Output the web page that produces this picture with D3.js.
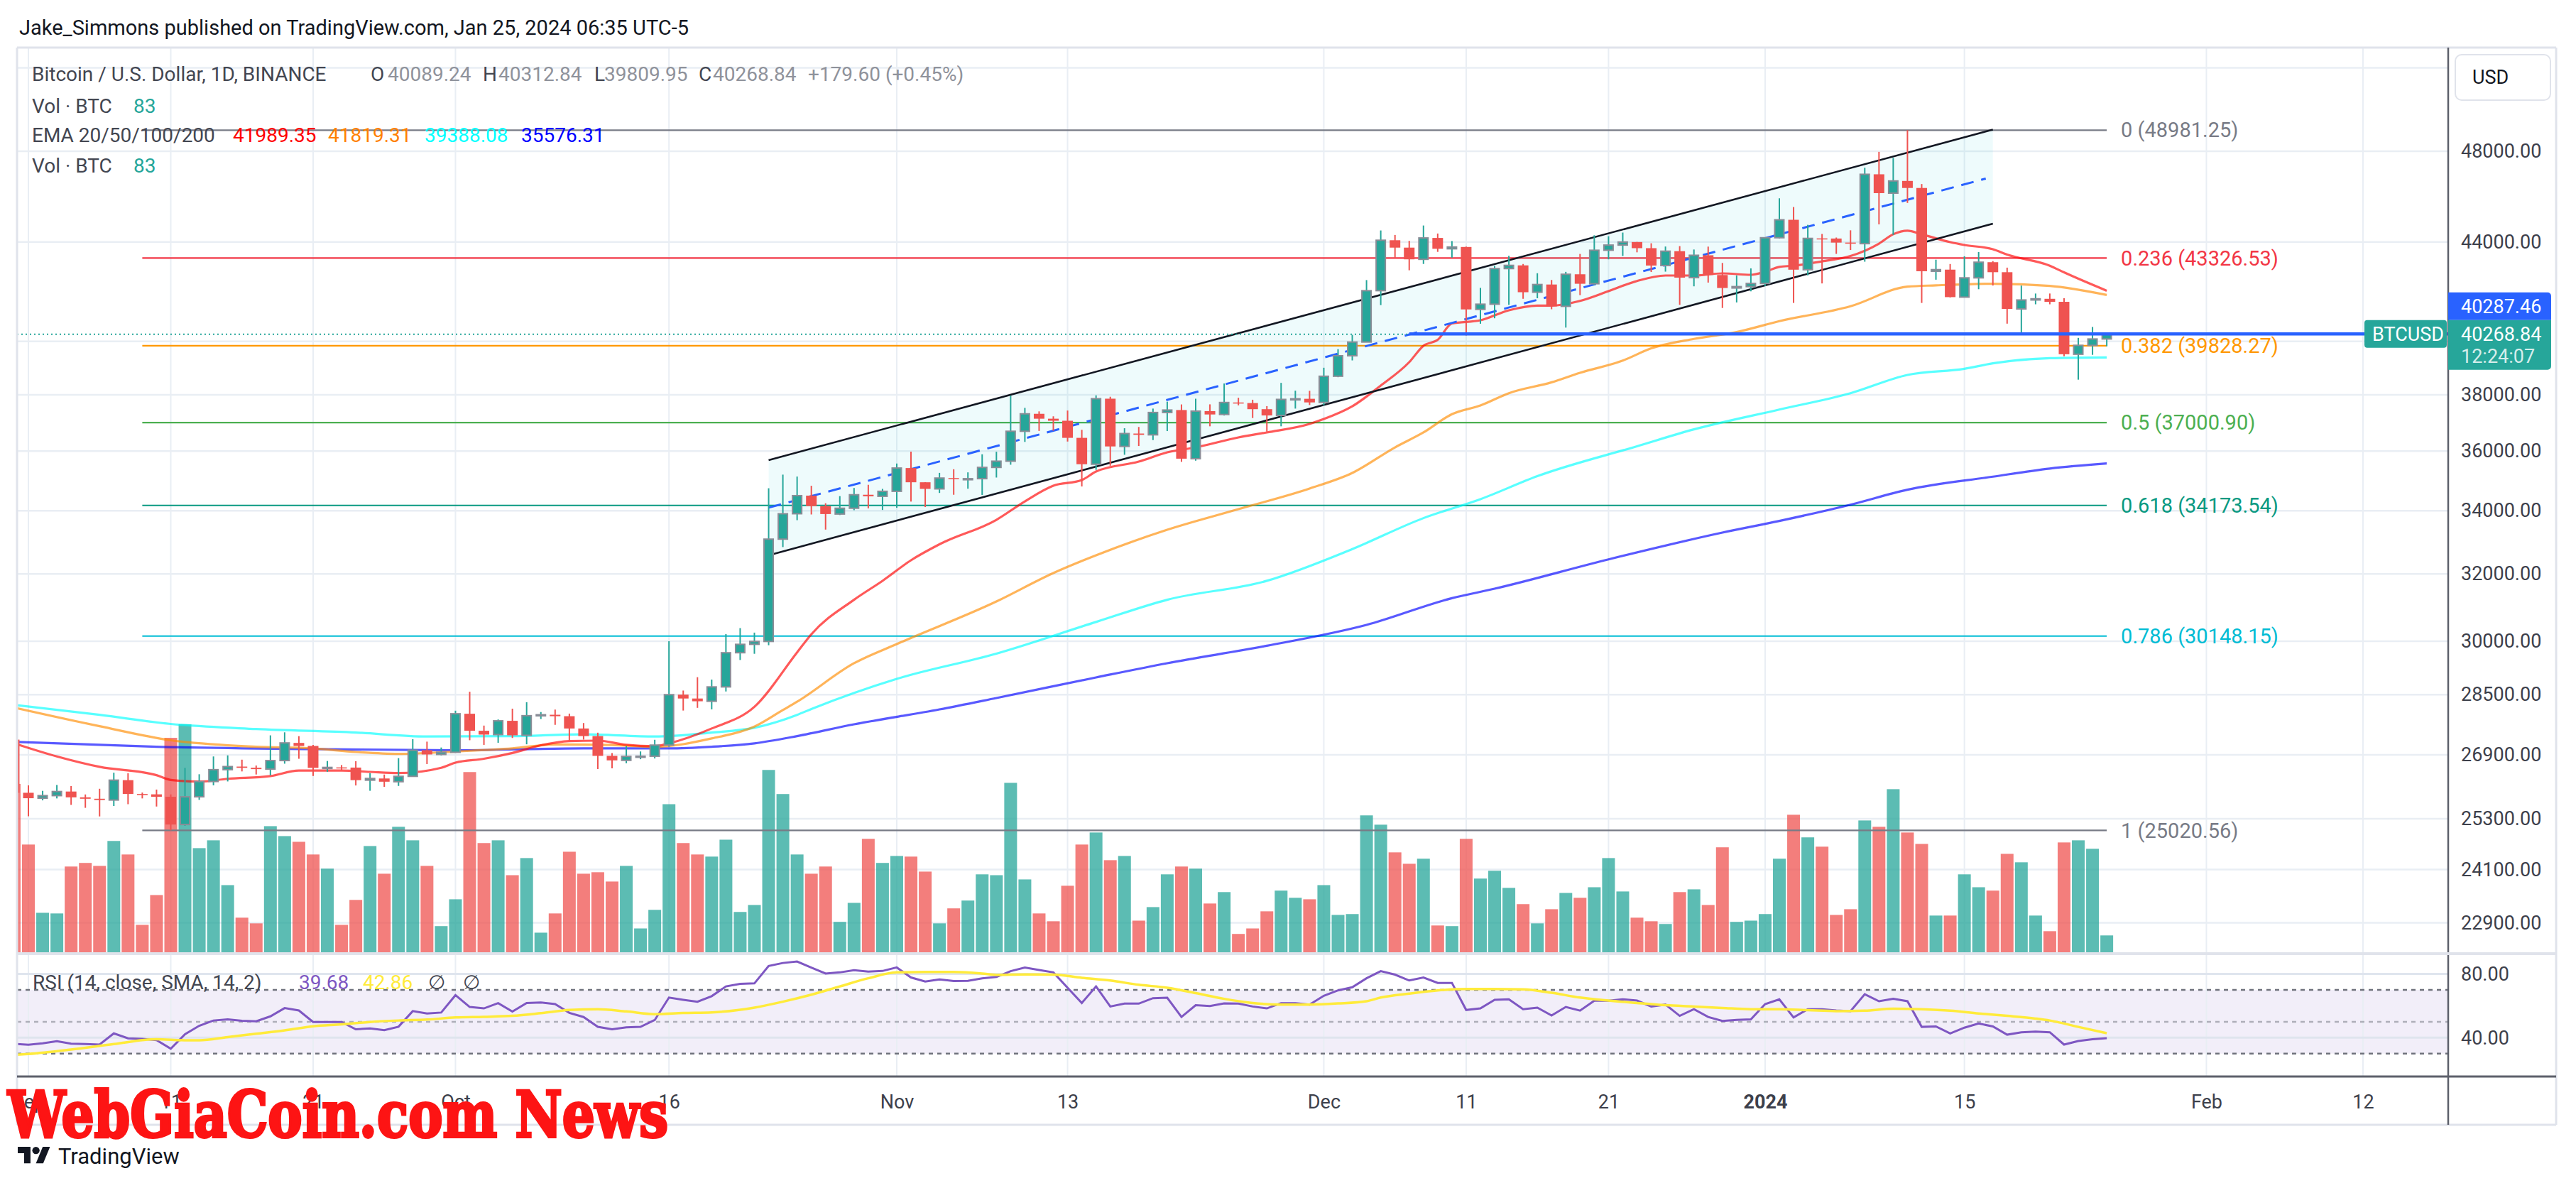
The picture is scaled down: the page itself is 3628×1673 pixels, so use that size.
<!DOCTYPE html>
<html><head><meta charset="utf-8">
<script src="https://cdn.jsdelivr.net/npm/d3@7/dist/d3.min.js"></script>
<style>
html,body{margin:0;padding:0;background:#fff;}
</style></head>
<body>
<svg id="chart" width="3628" height="1673" xmlns="http://www.w3.org/2000/svg"></svg>
<script>
// ---------------- DATA (daily candles from 2023-08-31 to 2024-01-25) ----------------
const firstDay = "2023-08-31";
const open = [27297,
 25940,25805,25869,25971,25826,25792,25760,26256,25910,25901,
 25841,25162,25840,26222,26522,26600,26569,26535,26754,27211,
 27132,26567,26579,26575,26256,26298,26217,26352,27021,26911,
 26967,27983,27530,27429,27794,27410,27931,27956,27917,27590,
 27390,26875,26759,26862,26866,27154,28500,28395,28320,28713,
 29670,29910,29993,33086,33902,34496,34151,33892,34081,34525,34474,
 34639,35421,34941,34720,35082,35049,35062,35443,35655,36693,
 37313,37138,37065,36462,35551,37858,36163,36613,36568,37360,
 37448,35741,37409,37289,37720,37700,37479,37254,37832,37854,
 37723,38682,39450,39972,41991,44073,43762,43273,44170,43713,
 43789,41243,41450,42890,43023,41929,42240,41365,42657,42271,
 43652,43869,43997,43739,43016,43613,42520,43442,42627,42099,42156,
 42283,44179,44946,42845,44151,44145,43974,43929,46951,46110,
 46653,46339,42782,42847,41732,42511,43154,42742,41262,41618,
 41665,41545,39507,39845,40089.24];
const high = [27575,
 26125,25988,26135,26108,25898,26040,26444,26430,25945,26020,
 25900,26567,26405,26860,26888,26777,26627,27409,27489,27388,
 27159,26743,26640,26738,26432,26398,26817,27308,27244,27091,
 28065,28580,27667,27830,28120,28295,28029,28095,27987,27735,
 27479,26947,27130,26989,27293,30000,28613,28982,28916,30207,
 30379,30248,34741,35198,35133,34824,34245,34480,34750,34856,34720,
 35575,35984,34946,35258,35380,35275,35892,35980,37972,37526,
 37400,37223,37430,36744,37980,37929,36800,36845,37500,37750,
 37650,37856,37653,38414,37892,37820,37589,38437,38150,38145,
 38999,39700,40250,42420,44488,44297,44047,44700,44358,44038,
 43804,42104,43000,43420,43080,42700,42424,42756,43497,44283,
 44242,44398,44000,43946,43808,43825,43683,43804,43124,42612,42899,
 44184,45879,45500,44729,44340,44187,44495,47248,47972,47695,
 48981.25,46515,43257,43079,43400,43578,43198,42930,42196,41876,
 41877,41689,40132,40555,40312.84];
const low = [25655,
 25362,25752,25800,25640,25568,25358,25614,25657,25800,25600,
 25020.56,25131,25764,26126,26224,26477,26399,26377,26674,26800,
 26361,26468,26500,26122,25990,26088,26111,26342,26665,26888,
 26954,27281,27160,27215,27340,27175,27842,27687,27260,27298,
 26538,26555,26685,26789,26808,27112,28069,28142,28100,28587,
 29464,29640,29884,32835,33693,33878,33390,33860,34017,34077,34025,
 34097,34300,34120,34585,34525,34725,34520,35100,35534,36320,
 36705,36712,36333,34800,35360,35500,35875,36178,36384,36700,
 35632,35670,36868,37251,37617,37162,36681,36868,37500,37629,
 37616,38647,39274,39972,41414,43335,42821,43081,43584,43343,
 40222,40680,40894,41424,41666,41688,41250,40530,41811,42213,
 43273,43412,43565,42750,42765,41424,42167,42318,41300,41520,41965,
 42180,44148,41500,42613,42284,43500,43662,43175,44748,44300,
 45678,41500,42436,41720,41718,42050,42200,40683,40280,41446,
 41446,39431,38555,39484,39809.95];
const close = [25940,
 25805,25869,25971,25826,25792,25760,26256,25910,25901,25841,
 25162,25840,26222,26522,26600,26569,26535,26754,27211,27132,
 26567,26579,26575,26256,26298,26217,26352,27021,26911,26967,
 27983,27530,27429,27794,27410,27931,27956,27917,27590,27390,
 26875,26759,26862,26866,27154,28500,28395,28320,28713,29670,
 29910,29993,33086,33902,34496,34151,33892,34081,34525,34474,34639,
 35421,34941,34720,35082,35049,35062,35443,35655,36693,37313,
 37138,37065,36462,35551,37858,36163,36613,36568,37360,37448,
 35741,37409,37289,37720,37700,37479,37254,37832,37854,37723,
 38682,39450,39972,41991,44073,43762,43273,44170,43713,43789,
 41243,41450,42890,43023,41929,42240,41365,42657,42271,43652,
 43869,43997,43739,43016,43613,42520,43442,42627,42099,42156,42283,
 44179,44946,42845,44151,44145,43974,43929,46951,46110,46653,
 46339,42782,42847,41732,42511,43154,42742,41262,41618,41665,
 41545,39507,39845,40089.24,40268.84];
const volume = [800,
 513,190,187,409,426,412,530,466,133,274,
 1018,1082,496,533,321,167,140,600,553,526,
 466,399,133,251,506,375,597,533,412,127,
 254,856,520,533,368,449,96,187,479,375,
 382,338,412,116,204,704,520,466,456,536,
 194,227,866,752,466,375,409,147,237,540,426,
 459,456,385,140,211,248,372,368,805,348,
 187,150,318,513,570,439,459,153,217,372,
 409,399,234,288,90,116,197,295,261,254,
 321,180,184,651,607,476,422,446,130,127,
 540,352,389,308,231,140,207,284,261,311,
 449,291,167,150,137,288,301,227,500,147,153,
 184,446,654,547,503,180,207,627,597,775,
 570,516,177,177,372,311,295,469,429,177,
 103,523,533,493,83];
const rsi = [36.2,
 35.6,36.5,37.8,36.3,36.0,35.7,42.7,39.6,39.3,38.5,
 33.1,42.2,47.5,50.8,51.5,50.6,50.3,53.4,58.6,57.1,
 49.9,49.9,49.9,45.3,45.8,44.7,46.9,56.7,55.2,55.8,
 66.7,59.3,58.4,61.7,56.4,61.8,62.1,61.1,55.6,53.0,
 46.8,45.3,46.5,46.8,51.1,65.2,63.8,62.6,66.1,72.2,
 73.8,74.1,85.0,86.9,87.8,84.0,80.3,81.0,82.4,81.5,
 81.9,84.1,77.8,75.3,76.6,75.6,75.7,77.3,78.1,81.8,
 84.0,82.5,81.0,71.4,61.8,72.2,59.6,61.4,61.4,64.8,
 65.1,53.0,60.4,59.9,61.5,61.4,59.6,58.4,61.7,61.7,
 60.8,66.3,69.7,71.7,77.3,81.8,79.6,75.9,77.8,74.4,
 74.4,57.4,58.4,63.8,64.1,57.9,58.9,54.0,59.3,57.0,
 63.2,63.2,64.1,63.3,59.6,60.8,53.7,57.9,53.0,50.5,
 51.2,51.5,61.1,64.1,52.7,57.9,57.9,57.1,56.7,67.3,
 62.9,64.4,62.9,46.8,47.1,42.7,46.3,48.9,47.1,41.9,
 43.4,43.8,43.4,35.7,37.9,39.0,39.68];

// indicator readings: [days after 2023-09-01, value]
const ema20 = [[-1,27200],[2,26860],[5,26593],[9,26382],[10,26260],[12,26220],[14,26290],[17,26360],[19,26500],[22,26500],[24,26465],[26,26435],[29,26570],[30,26700],[32,26800],[34,26950],[36,27150],[38,27260],[40,27270],[42,27160],[44,27125],[45,27200],[48,27590],[51,28170],[54,29680],[55,30200],[58,31217],[60,31788],[62,32422],[64,32922],[68,33705],[70,34307],[72,34826],[74,35016],[75,35303],[78,35641],[80,35958],[82,36130],[85,36477],[87,36652],[90,36952],[91,37126],[93,37583],[95,38336],[97,39208],[98,39830],[99,40056],[100,40690],[102,40816],[104,41208],[106,41394],[107,41394],[109,41582],[111,41972],[113,42383],[115,42606],[117,42606],[119,42693],[121,42635],[122,42760],[123,42961],[124,43010],[126,43187],[128,43411],[130,43932],[131,44326],[132,44478],[133,44326],[135,43992],[136,43873],[138,43693],[139,43468],[142,43010],[143,42735],[146,41989.35]];
const ema50 = [[-1,28150],[5,27651],[10,27280],[16,27111],[20,27068],[23,26975],[26,26926],[30,26988],[34,27068],[37,27170],[41,27155],[44,27111],[48,27328],[51,27640],[53,28082],[54,28307],[58,29373],[61,29918],[68,31166],[72,32027],[75,32577],[80,33385],[85,34051],[90,34731],[93,35255],[96,36130],[98,36652],[100,37300],[102,37612],[104,38058],[107,38457],[109,38810],[112,39267],[114,39730],[117,40094],[120,40357],[123,40780],[128,41368],[132,42153],[134,42206],[138,42272],[142,42184],[146,41819.31]];
const ema100 = [[-1,28220],[5,27954],[10,27710],[16,27576],[23,27483],[28,27380],[34,27389],[39,27434],[44,27378],[48,27483],[51,27608],[54,27954],[55,28110],[61,28935],[68,29644],[75,30559],[80,31217],[87,31790],[93,32772],[98,33760],[102,34378],[106,35147],[113,36169],[117,36760],[123,37466],[128,38058],[132,38730],[136,38960],[138,39163],[142,39358],[146,39388.08]];
const ema200 = [[-1,27240],[9,27111],[20,27050],[30,27020],[39,27068],[45,27068],[48,27111],[51,27200],[54,27389],[58,27700],[64,28100],[68,28409],[75,28975],[80,29373],[87,29869],[94,30473],[100,31264],[103,31550],[111,32450],[119,33294],[123,33668],[128,34198],[132,34693],[138,35130],[142,35404],[146,35576.31]];
const rsiSma = [[-1,29.2],[0,29.8],[3,32.6],[6,36.0],[9,39.0],[11,38.4],[12,38.4],[14,40.4],[16,42.5],[18,44.6],[20,47.2],[22,48.4],[24,49.9],[26,50.8],[28,51.4],[30,52.7],[32,53.1],[34,53.7],[36,55.4],[38,57.4],[40,57.9],[42,56.5],[44,54.8],[46,55.5],[48,55.9],[51,58.9],[53,62.6],[55,67.0],[57,72.2],[59,77.3],[61,81.0],[63,81.3],[65,81.3],[67,80.3],[68,79.4],[70,79.7],[72,79.6],[74,77.6],[76,75.9],[78,73.2],[80,71.4],[82,68.0],[84,64.4],[86,61.8],[88,60.8],[90,60.8],[92,61.5],[94,62.9],[95,65.2],[97,67.7],[99,69.7],[101,70.6],[103,70.6],[105,70.3],[107,68.2],[109,65.2],[111,63.3],[113,61.8],[115,60.4],[117,59.6],[119,58.7],[121,57.9],[123,57.9],[125,57.3],[127,56.7],[129,57.0],[131,58.2],[133,57.9],[135,57.0],[137,55.2],[139,53.7],[141,52.0],[142,50.8],[144,46.8],[146,42.86]];

const fibLevels = ["0","0.236","0.382","0.5","0.618","0.786","1"];
const fibPrices = [48981.25,43326.53,39828.27,37000.90,34173.54,30148.15,25020.56];
const fibStart = "2023-09-09", fibEnd = "2024-01-25";
const channelUpper = [["2023-10-23",35693],["2024-01-17",49008]];
const channelLower = [["2023-10-23",32578],["2024-01-17",44778]];
const alertPrice = 40287.46, alertStart = "2023-12-07";
const countdown = "12:24:07";
const priceTicks = [52000,48000,44000,40000,38000,36000,34000,32000,30000,28500,26900,25300,24100,22900];
const hiddenPriceLabels = [52000,40000];
const rsiTicks = [80,40];
const rsiBands = [70,50,30];
const timeTicks = [["2023-09-01","Sep"],["2023-09-11","11"],["2023-09-21","21"],["2023-10-01","Oct"],["2023-10-16","16"],["2023-11-01","Nov"],["2023-11-13","13"],["2023-12-01","Dec"],["2023-12-11","11"],["2023-12-21","21"],["2024-01-01","2024"],["2024-01-15","15"],["2024-02-01","Feb"],["2024-02-12","12"]];

// ---------------- STYLE / LAYOUT ----------------
const FONT = "Roboto, 'Noto Sans', 'DejaVu Sans', sans-serif";
const L = 24, R = 3448, PT = 67, PB = 1342, RT = 1344, RB = 1516, AB = 1584, FR = 3600;
const UP = "#26a69a", DN = "#ef5350", GRID = "#e9eef4", TXT = "#3d404b";
const fibColors = ["#787b86","#f23645","#ff9800","#4caf50","#089981","#00bcd4","#787b86"];

const svg = d3.select("#chart").attr("font-family", FONT);
const parse = d3.utcParse("%Y-%m-%d");
const base = parse(firstDay);
const dates = close.map((_, i) => d3.utcDay.offset(base, i));
const sep1 = parse("2023-09-01");
const dayAt = d => d3.utcDay.offset(sep1, d);
const f2 = d3.format(".2f");

const x = d3.scaleUtc().domain([parse("2023-09-01"), parse("2024-02-12")]).range([40, 3328]);
const y = d3.scaleLog().domain([53020, 22245]).range([PT, PB]);
const yR = d3.scaleLinear().domain([15.65, 92.3]).range([RB, RT]);
const yV = d3.scaleLinear().domain([0, d3.max(volume)]).range([PB, PB - 322]);

svg.append("rect").attr("width", 3628).attr("height", 1673).attr("fill", "#fff");
const defs = svg.append("defs");
defs.append("clipPath").attr("id", "clipP").append("rect").attr("x", L).attr("y", PT).attr("width", R - L).attr("height", PB - PT);
defs.append("clipPath").attr("id", "clipR").append("rect").attr("x", L).attr("y", RT).attr("width", R - L).attr("height", RB - RT);

const gP = svg.append("g").attr("clip-path", "url(#clipP)");
const gR = svg.append("g").attr("clip-path", "url(#clipR)");
const tickDates = timeTicks.map(t => parse(t[0]));

// grids
gP.selectAll(".vg").data(tickDates).join("line").attr("x1", d => x(d)).attr("x2", d => x(d)).attr("y1", PT).attr("y2", PB).attr("stroke", GRID).attr("stroke-width", 2);
gP.selectAll(".hg").data(priceTicks).join("line").attr("x1", L).attr("x2", R).attr("y1", d => y(d)).attr("y2", d => y(d)).attr("stroke", GRID).attr("stroke-width", 2.5);
gR.append("rect").attr("x", L).attr("width", R - L).attr("y", yR(70)).attr("height", yR(30) - yR(70)).attr("fill", "rgba(126,87,194,0.1)");
gR.selectAll(".vg").data(tickDates).join("line").attr("x1", d => x(d)).attr("x2", d => x(d)).attr("y1", RT).attr("y2", RB).attr("stroke", GRID).attr("stroke-width", 2);
gR.selectAll(".hg").data(rsiTicks).join("line").attr("x1", L).attr("x2", R).attr("y1", d => yR(d)).attr("y2", d => yR(d)).attr("stroke", "#dfe5ee").attr("stroke-width", 3);
gR.selectAll(".band").data(rsiBands).join("line").attr("x1", L).attr("x2", R).attr("y1", d => yR(d)).attr("y2", d => yR(d))
  .attr("stroke", d => d === 50 ? "rgba(120,123,134,0.55)" : "#6f727c").attr("stroke-width", 2.5).attr("stroke-dasharray", "6,6");

// volume
gP.selectAll(".vol").data(volume).join("rect")
  .attr("x", (d, i) => x(dates[i]) - 9).attr("width", 18)
  .attr("y", d => yV(d)).attr("height", d => PB - yV(d))
  .attr("fill", (d, i) => close[i] >= open[i] ? "rgba(38,166,154,0.75)" : "rgba(239,83,80,0.75)");

// fib lines
const fx1 = x(parse(fibStart)), fx2 = x(parse(fibEnd));
gP.selectAll(".fib").data(fibPrices).join("line").attr("x1", fx1).attr("x2", fx2).attr("y1", d => y(d)).attr("y2", d => y(d))
  .attr("stroke", (d, i) => fibColors[i]).attr("stroke-width", 2.2);
gP.selectAll(".fibl").data(fibPrices).join("text").attr("x", fx2 + 20).attr("y", d => y(d)).attr("dy", "0.35em")
  .attr("font-size", 29).attr("fill", (d, i) => fibColors[i]).text((d, i) => `${fibLevels[i]} (${f2(d)})`);

// channel fill
const cu = channelUpper.map(p => [x(parse(p[0])), y(p[1])]);
const cl = channelLower.map(p => [x(parse(p[0])), y(p[1])]);
gP.append("path").attr("d", d3.line()([cu[0], cu[1], cl[1], cl[0]]) + "Z").attr("fill", "rgba(0,188,212,0.065)");

// EMAs
const emaLine = d3.line().x(d => x(dayAt(d[0]))).y(d => y(d[1])).curve(d3.curveMonotoneX);
[[ema200, "#0000ff"], [ema100, "#00ffff"], [ema50, "#ff8c00"], [ema20, "#ff0000"]].forEach(([s, c]) => {
  gP.append("path").attr("d", emaLine(s)).attr("fill", "none").attr("stroke", c).attr("stroke-opacity", 0.65).attr("stroke-width", 3.2);
});

// channel lines
gP.append("path").attr("d", d3.line()(cu)).attr("stroke", "#131722").attr("stroke-width", 2.6).attr("fill", "none");
gP.append("path").attr("d", d3.line()(cl)).attr("stroke", "#131722").attr("stroke-width", 2.6).attr("fill", "none");
const mid = [[cu[0][0], (cu[0][1] + cl[0][1]) / 2], [cu[1][0] - 10, (cu[1][1] + cl[1][1]) / 2 + 2.7]];
gP.append("path").attr("d", d3.line()(mid)).attr("stroke", "#2962ff").attr("stroke-width", 3).attr("stroke-dasharray", "18,11").attr("fill", "none");

// candles
const cg = gP.append("g");
cg.selectAll(".wick").data(close).join("line")
  .attr("x1", (d, i) => x(dates[i])).attr("x2", (d, i) => x(dates[i]))
  .attr("y1", (d, i) => y(high[i])).attr("y2", (d, i) => y(low[i]))
  .attr("stroke", (d, i) => close[i] >= open[i] ? UP : DN).attr("stroke-width", 2);
cg.selectAll(".body").data(close).join("rect")
  .attr("x", (d, i) => x(dates[i]) - (close[i] >= open[i] ? 6.5 : 7.5))
  .attr("width", (d, i) => close[i] >= open[i] ? 13 : 15)
  .attr("y", (d, i) => y(Math.max(open[i], close[i])))
  .attr("height", (d, i) => Math.max(1.5, y(Math.min(open[i], close[i])) - y(Math.max(open[i], close[i]))))
  .attr("fill", (d, i) => close[i] >= open[i] ? UP : DN)
  .attr("stroke", (d, i) => close[i] >= open[i] ? "#8a8d97" : "none").attr("stroke-width", 2);

// price lines
const lastPrice = close[close.length - 1];
gP.append("line").attr("x1", L).attr("x2", R).attr("y1", y(lastPrice)).attr("y2", y(lastPrice)).attr("stroke", UP).attr("stroke-width", 2).attr("stroke-dasharray", "2,4");
gP.append("line").attr("x1", x(parse(alertStart))).attr("x2", R).attr("y1", y(alertPrice)).attr("y2", y(alertPrice)).attr("stroke", "#2962ff").attr("stroke-width", 4.5);

// RSI lines
gR.append("path").attr("d", d3.line().x((d, i) => x(dates[i])).y(d => yR(d))(rsi)).attr("fill", "none").attr("stroke", "#7e57c2").attr("stroke-width", 3);
gR.append("path").attr("d", d3.line().x(d => x(dayAt(d[0]))).y(d => yR(d[1])).curve(d3.curveMonotoneX)(rsiSma)).attr("fill", "none").attr("stroke", "#ffeb3b").attr("stroke-width", 3.5);

// ---------------- AXES ----------------
const axP = svg.append("g").attr("transform", `translate(${R},0)`)
  .call(d3.axisRight(y).tickValues(priceTicks.filter(v => !hiddenPriceLabels.includes(v))).tickFormat(f2).tickSize(0).tickPadding(18));
axP.attr("font-family", FONT).attr("font-size", 27);
axP.select(".domain").remove();
axP.selectAll("text").attr("fill", TXT);

const axR = svg.append("g").attr("transform", `translate(${R},0)`)
  .call(d3.axisRight(yR).tickValues(rsiTicks).tickFormat(f2).tickSize(0).tickPadding(18));
axR.attr("font-family", FONT).attr("font-size", 27);
axR.select(".domain").remove();
axR.selectAll("text").attr("fill", TXT);

const axT = svg.append("g").attr("transform", `translate(0,${RB})`)
  .call(d3.axisBottom(x).tickValues(tickDates).tickFormat((d, i) => timeTicks[i][1]).tickSize(0).tickPadding(26));
axT.attr("font-family", FONT).attr("font-size", 27);
axT.select(".domain").remove();
axT.selectAll("text").attr("fill", TXT).attr("font-weight", (d, i) => /^\d{4}$/.test(timeTicks[i][1]) ? "bold" : null);

// frame & separators
const frame = svg.append("g");
frame.append("line").attr("x1", L).attr("x2", FR).attr("y1", PT).attr("y2", PT).attr("stroke", "#e0e3eb").attr("stroke-width", 3);
frame.append("line").attr("x1", L).attr("x2", L).attr("y1", PT).attr("y2", AB).attr("stroke", "#e0e3eb").attr("stroke-width", 3);
frame.append("line").attr("x1", FR).attr("x2", FR).attr("y1", PT).attr("y2", AB).attr("stroke", "#e0e3eb").attr("stroke-width", 3);
frame.append("line").attr("x1", L).attr("x2", FR).attr("y1", AB).attr("y2", AB).attr("stroke", "#e0e3eb").attr("stroke-width", 3);
frame.append("line").attr("x1", R).attr("x2", R).attr("y1", PT).attr("y2", AB).attr("stroke", "#5d606b").attr("stroke-width", 2.5);
frame.append("line").attr("x1", L).attr("x2", FR).attr("y1", PB + 1).attr("y2", PB + 1).attr("stroke", "#e0e3eb").attr("stroke-width", 4);
frame.append("line").attr("x1", L).attr("x2", FR).attr("y1", RB).attr("y2", RB).attr("stroke", "#5d606b").attr("stroke-width", 3);

// USD box
svg.append("rect").attr("x", 3458).attr("y", 77).attr("width", 134).attr("height", 64).attr("rx", 9).attr("fill", "#fff").attr("stroke", "#e0e3eb").attr("stroke-width", 2);
svg.append("text").attr("x", 3482).attr("y", 109).attr("dy", "0.35em").attr("font-size", 27).attr("fill", "#131722").text("USD");

// price labels on axis
const yl = y(lastPrice);
svg.append("path").attr("d", `M${R},${yl - 59}H${3588}a5,5 0 0 1 5,5V${yl - 20}H${R}Z`).attr("fill", "#2962ff");
svg.append("text").attr("x", 3466).attr("y", yl - 39).attr("dy", "0.35em").attr("font-size", 27).attr("fill", "#fff").text(f2(alertPrice));
svg.append("path").attr("d", `M${R},${yl - 20}H${3593}V${yl + 45}a5,5 0 0 1 -5,5H${R}Z`).attr("fill", UP);
svg.append("text").attr("x", 3466).attr("y", yl).attr("dy", "0.35em").attr("font-size", 27).attr("fill", "#fff").text(f2(lastPrice));
svg.append("text").attr("x", 3466).attr("y", yl + 31).attr("dy", "0.35em").attr("font-size", 27).attr("fill", "rgba(255,255,255,0.82)").text(countdown);
svg.append("rect").attr("x", 3330).attr("y", yl - 20).attr("width", 116).attr("height", 39).attr("rx", 4).attr("fill", UP);
svg.append("text").attr("x", 3341).attr("y", yl).attr("dy", "0.35em").attr("font-size", 27).attr("fill", "#fff").text("BTCUSD");

// ---------------- LEGEND ----------------
const LG = "#434651", LV = "#8f929b";
function t(xx, yy, s, c, fs, w) {
  return svg.append("text").attr("x", xx).attr("y", yy).attr("dy", "0.35em").attr("font-size", fs || 28).attr("fill", c).attr("font-weight", w || null).text(s);
}
const li = close.length - 1;
const chg = close[li] - close[li - 1];
t(27, 39, "Jake_Simmons published on TradingView.com, Jan 25, 2024 06:35 UTC-5", "#131722", 29);
t(45, 104, "Bitcoin / U.S. Dollar, 1D, BINANCE", LG);
t(522, 104, "O", LG); t(546, 104, f2(open[li]), LV);
t(680, 104, "H", LG); t(702, 104, f2(high[li]), LV);
t(837, 104, "L", LG); t(851, 104, f2(low[li]), LV);
t(984, 104, "C", LG); t(1004, 104, f2(close[li]), LV);
t(1138, 104, `+${f2(chg)} (+${f2(chg / close[li - 1] * 100)}%)`, LV);
t(45, 149, "Vol · BTC", LG); t(188, 149, String(volume[li]), UP);
t(45, 190, "EMA 20/50/100/200", LG);
t(328, 190, f2(ema20[ema20.length - 1][1]), "#ff0000");
t(462, 190, f2(ema50[ema50.length - 1][1]), "#ff8000");
t(598, 190, f2(ema100[ema100.length - 1][1]), "#00ffff");
t(734, 190, f2(ema200[ema200.length - 1][1]), "#0000ff");
t(45, 233, "Vol · BTC", LG); t(188, 233, String(volume[li]), UP);
t(46, 1383, "RSI (14, close, SMA, 14, 2)", LG);
t(421, 1383, f2(rsi[li]), "#7e57c2");
t(511, 1383, f2(rsiSma[rsiSma.length - 1][1]), "#ffeb3b");
t(603, 1383, "∅", LG); t(652, 1383, "∅", LG);

// ---------------- WATERMARK & LOGO ----------------
svg.append("text").attr("x", 11).attr("y", 1601).attr("font-family", "'DejaVu Serif', serif").attr("font-weight", "bold")
  .attr("font-size", 90).attr("fill", "#fd1414").attr("stroke", "#fd1414").attr("stroke-width", 4).attr("stroke-linejoin", "miter")
  .attr("textLength", 930).attr("lengthAdjust", "spacingAndGlyphs").text("WebGiaCoin.com News");
const logo = svg.append("g").attr("transform", "translate(25,1610) scale(1.28)").attr("fill", "#131722");
logo.append("path").attr("d", "M14 22H7V11H0V4h14v18z");
logo.append("circle").attr("cx", 20).attr("cy", 8).attr("r", 4);
logo.append("path").attr("d", "M28 22h-8l7.5-18h8L28 22z");
svg.append("text").attr("x", 82).attr("y", 1639).attr("font-size", 31).attr("fill", "#131722").text("TradingView");
</script>
</body></html>
